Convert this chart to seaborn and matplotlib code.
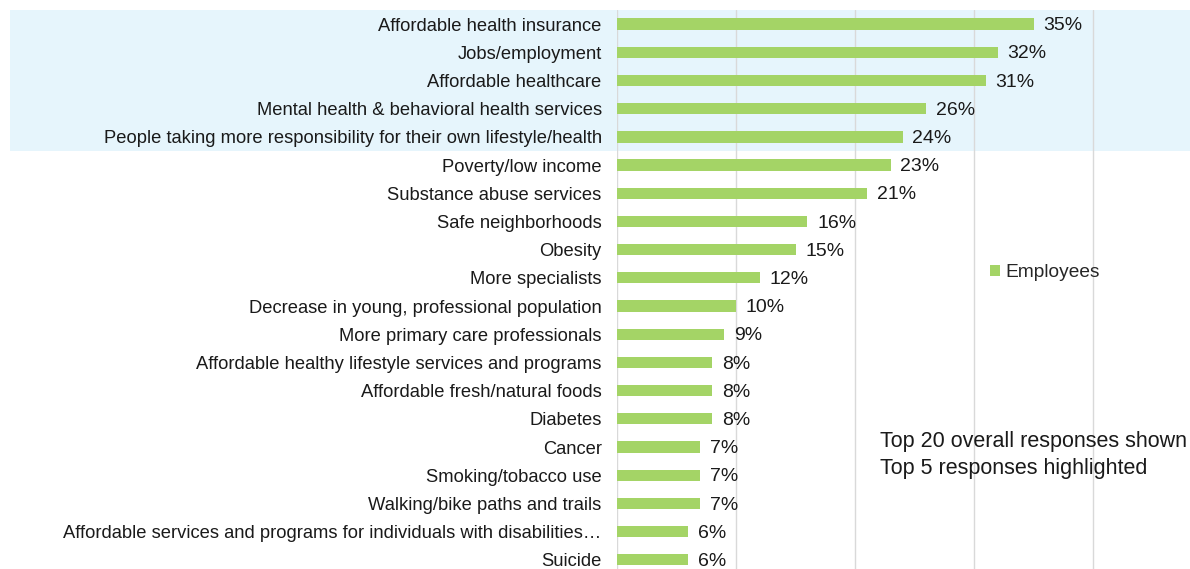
import pandas as pd
import matplotlib
matplotlib.use('Agg')
import matplotlib.pyplot as plt
import matplotlib.transforms as mtransforms
from matplotlib.patches import Rectangle
import seaborn as sns

issues = [
    "Affordable health insurance",
    "Jobs/employment",
    "Affordable healthcare",
    "Mental health & behavioral health services",
    "People taking more responsibility for their own lifestyle/health",
    "Poverty/low income",
    "Substance abuse services",
    "Safe neighborhoods",
    "Obesity",
    "More specialists",
    "Decrease in young, professional population",
    "More primary care professionals",
    "Affordable healthy lifestyle services and programs",
    "Affordable fresh/natural foods",
    "Diabetes",
    "Cancer",
    "Smoking/tobacco use",
    "Walking/bike paths and trails",
    "Affordable services and programs for individuals with disabilities\u2026",
    "Suicide",
]
employees = [35, 32, 31, 26, 24, 23, 21, 16, 15, 12, 10, 9, 8, 8, 8, 7, 7, 7, 6, 6]
n_highlight = 5
note_lines = ["Top 20 overall responses shown", "Top 5 responses highlighted"]

df = pd.DataFrame({"issue": issues, "pct": employees})

sns.set_style("white")
plt.rcParams['font.family'] = ['Liberation Sans', 'DejaVu Sans']

fig = plt.figure(figsize=(11.9, 5.69), dpi=100)
ax = fig.add_axes([617 / 1190, 0, 1 - 617 / 1190, 1 - 10 / 569])

sns.barplot(data=df, x="pct", y="issue", orient="h", color="#A4D466",
            width=0.4, saturation=1, linewidth=0, label="Employees", ax=ax)

ax.set_xlim(0, (1190 - 617) / 11.9)
ax.set_ylim((569 - 24) / 28.2, -0.5)
ax.set_xticks([0, 10, 20, 30, 40])
ax.set_xticklabels([])
ax.set_xlabel("")
ax.set_ylabel("")
ax.grid(axis="x", color="#D9D9D9", lw=1)
ax.set_axisbelow(True)
ax.tick_params(axis="y", length=0, pad=11, labelsize=13.2, labelcolor="#1a1a1a")
ax.tick_params(axis="x", length=0)
for s in ax.spines.values():
    s.set_visible(False)

# highlight band for top responses, reaching into the label area
trans = mtransforms.blended_transform_factory(fig.transFigure, ax.transData)
ax.add_patch(Rectangle((10 / 1190, -0.5), 1 - 10 / 1190, n_highlight,
                       transform=trans, facecolor="#E6F5FC", edgecolor="none",
                       clip_on=False, zorder=0.1))

labels = ax.bar_label(ax.containers[0], fmt="%d%%", padding=7, fontsize=14, color="#1a1a1a")
for t in labels:
    t.xyann = (7, -1.2)

ax.legend(loc="center left", bbox_to_anchor=(0.62, 0.53), frameon=False,
          handlelength=0.55, handleheight=0.55, handletextpad=0.3, fontsize=13.8)

fig.text(880 / 1190, 1 - 431 / 569, "\n".join(note_lines), ha="left", va="top",
         fontsize=15.5, color="#1a1a1a", linespacing=1.35)

fig.savefig("out.png", dpi=100)
